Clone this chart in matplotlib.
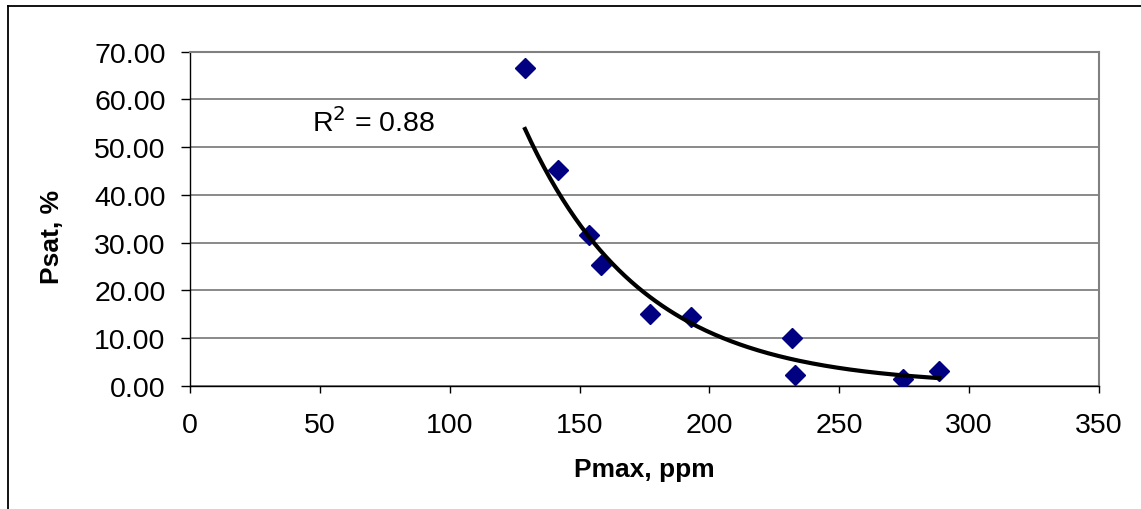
import numpy as np
import matplotlib
matplotlib.use('Agg')
import matplotlib.pyplot as plt
from matplotlib.lines import Line2D

plt.rcParams['font.family'] = ['Liberation Sans', 'DejaVu Sans']

# data
pmax = [129.0, 141.8, 153.6, 158.1, 177.3, 192.8, 231.9, 233.0, 274.4, 288.4]
psat = [66.6, 45.2, 31.6, 25.2, 15.1, 14.3, 10.1, 2.2, 1.4, 3.0]
xticks = [0, 50, 100, 150, 200, 250, 300, 350]
yticks = [0, 10, 20, 30, 40, 50, 60, 70]
r2_label = 'R$^2$ = 0.88'

# exponential trendline (Excel style: fit ln(y) vs x)
b, ln_a = np.polyfit(pmax, np.log(psat), 1)
xs = np.linspace(min(pmax), max(pmax), 200)
ys = np.exp(ln_a) * np.exp(b * xs)

fig = plt.figure(figsize=(11.41, 5.10), dpi=100)
ax = fig.add_axes([190/1141, 1 - 386.7/510, (1099 - 190)/1141, (386.7 - 52.7)/510])

ax.set_xlim(0, 350) ; ax.set_ylim(0, 70)
ax.set_xticks(xticks) ; ax.set_yticks(yticks)
ax.set_xticklabels([str(t) for t in xticks])
ax.set_yticklabels(['%.2f' % t for t in yticks])
ax.tick_params(axis='both', labelsize=20.5, colors='black', width=1, direction='out')
ax.tick_params(axis='y', length=6.5, pad=11)
ax.tick_params(axis='x', length=5, pad=14)

ax.yaxis.grid(True, color='#808080', linewidth=1.3)
ax.set_axisbelow(True)
for s in ('top', 'right'):
    ax.spines[s].set_color('#808080') ; ax.spines[s].set_linewidth(1.5)
for s in ('left', 'bottom'):
    ax.spines[s].set_color('black') ; ax.spines[s].set_linewidth(1.0)

ax.plot(pmax, psat, linestyle='none', marker='D', markersize=10, color='#000080', zorder=3)
ax.plot(xs, ys, color='black', linewidth=3, zorder=4)

ax.text(312/1141, 1 - 132/510, r2_label, transform=fig.transFigure, fontsize=20.5, va='baseline', ha='left')

fig.text(644.5/1141, 1 - 477/510, 'Pmax, ppm', fontsize=19, fontweight='bold', ha='center', va='baseline')
fig.text(52/1141, 1 - 237/510, 'Psat, %', fontsize=19, fontweight='bold', rotation=90, ha='center', va='center')

# chart frame (only top and left edges are visible in the original crop)
fig.add_artist(Line2D([8/1141, 8/1141], [0, 1 - 7/510], transform=fig.transFigure, color='black', linewidth=1.3))
fig.add_artist(Line2D([8/1141, 1], [1 - 7/510, 1 - 7/510], transform=fig.transFigure, color='black', linewidth=1.3))

fig.savefig('out.png', dpi=100)
